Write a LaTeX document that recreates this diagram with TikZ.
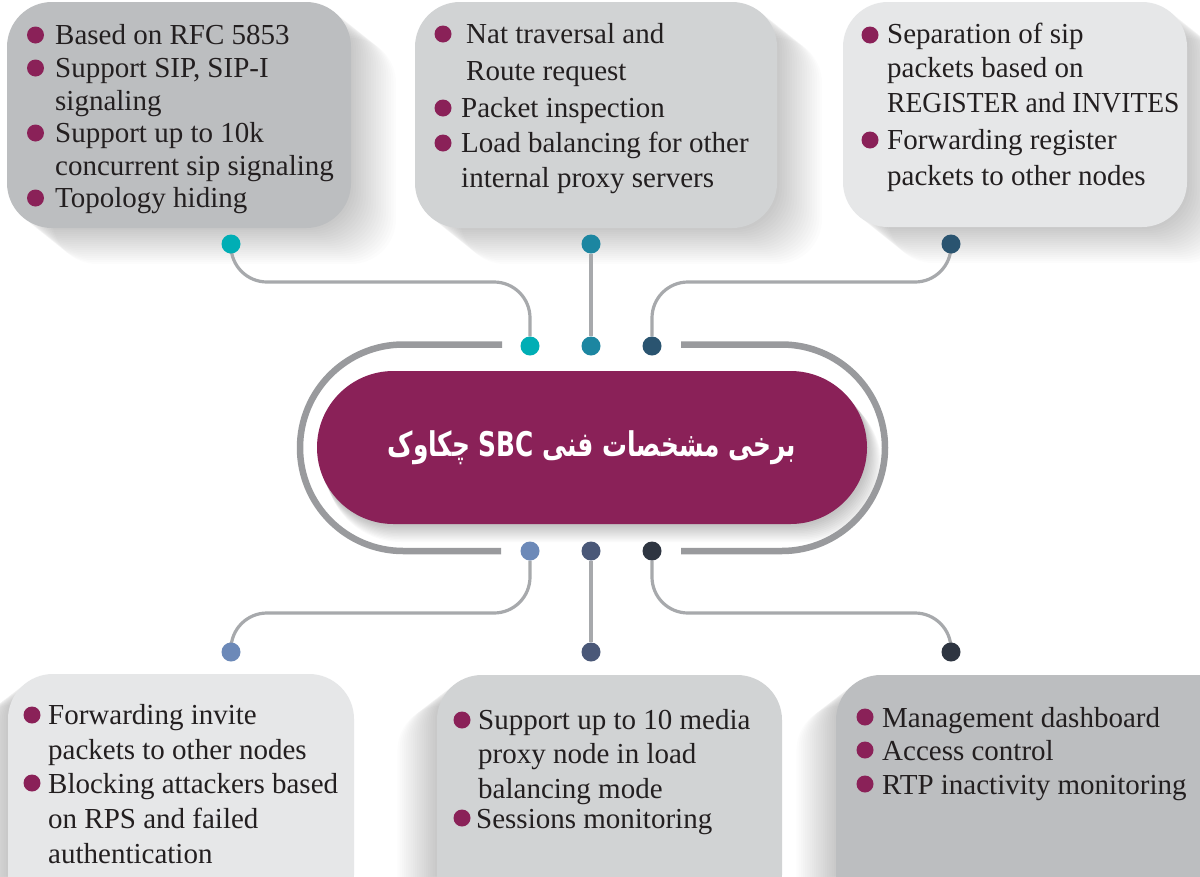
\documentclass[tikz,border=0pt]{standalone}
\usepackage{fontspec}
\setmainfont{Liberation Serif}
\newfontfamily\arabicfont[Script=Arabic]{DejaVu Sans}
\TeXXeTstate=1

\definecolor{plum}{HTML}{8A2158}
\definecolor{ink}{HTML}{231F20}
\definecolor{greyA}{HTML}{BCBEC0}
\definecolor{greyB}{HTML}{D1D3D4}
\definecolor{greyC}{HTML}{E6E7E8}
\definecolor{wirec}{HTML}{A7A9AC}
\definecolor{ringc}{HTML}{999A9D}
\definecolor{dotA}{HTML}{00AEB5}
\definecolor{dotB}{HTML}{1C86A1}
\definecolor{dotC}{HTML}{2A5470}
\definecolor{dotD}{HTML}{6C89B8}
\definecolor{dotE}{HTML}{4A5878}
\definecolor{dotF}{HTML}{2E3541}

\pgfdeclarelayer{back}
\pgfdeclarelayer{wires}
\pgfsetlayers{back,wires,main}

% one line of box text, anchored at its baseline
\newcommand\txtline[4]{\node[txt] (#1) at (#2,#3) {#4};}
% a round bullet
\newcommand\bulat[3]{\node[bul] (#1) at (#2,#3) {};}
% soft shadow behind a rounded card: x1,y1,x2,y2,dx,dy
\newcommand\cardshadow[6]{%
  \foreach \k in {1,...,18}{%
    \fill[black,opacity=0.012,rounded corners=45]
      ({#1+\k*#5},{#2+\k*#6}) rectangle ({#3+\k*#5},{#4+\k*#6});}}

\begin{document}
\begin{tikzpicture}[x=1pt,y=-1pt,
  txt/.style={anchor=base west,inner sep=0pt,text=ink,
    font=\fontsize{29}{33}\selectfont},
  bul/.style={circle,inner sep=0pt,minimum size=17,fill=plum},
  card/.style={rounded corners=45},
  dotnode/.style={circle,inner sep=0pt,minimum size=19},
  wire/.style={draw=wirec,line width=3.2,rounded corners=36},
  ring/.style={draw=ringc,line width=6.5},
  pill/.style={rectangle,rounded corners=76.5,fill=plum,minimum width=550,
    minimum height=153,inner sep=0pt,text=white,
    font=\arabicfont\bfseries\fontsize{34}{38}\selectfont}]
\useasboundingbox (0,0) rectangle (1200,876);

\begin{pgfonlayer}{back}
  \fill[white] (0,0) rectangle (1200,876);
  % cards of the upper row and their shadows
  \cardshadow{7}{2}{351}{228}{2.5}{2}
  \cardshadow{415}{2}{777}{228}{2.5}{2}
  \cardshadow{843}{2}{1187}{227}{2.5}{2}
  \fill[greyA,card] (7,2) rectangle (351,228);
  \fill[greyB,card] (415,2) rectangle (777,228);
  \fill[greyC,card] (843,2) rectangle (1187,227);
  % cards of the lower row and their shadows
  \cardshadow{8}{674}{354}{920}{-2.2}{1.7}
  \cardshadow{437}{675}{782}{920}{-2.2}{1.7}
  \cardshadow{836}{675}{1245}{920}{-2.2}{1.7}
  \fill[greyC,card] (8,674) rectangle (354,920);
  \fill[greyB,card] (437,675) rectangle (782,920);
  \fill[greyA,card] (836,675) rectangle (1245,920);
  % soft shadow under the central pill
  \foreach \k in {1,...,12}{%
    \fill[black,opacity=0.02,rounded corners=76]
      ({317+\k*0.7},{371+\k*1.5}) rectangle ({867+\k*1.2},{524+\k*1.5});}
  % outer ring, open where the dots sit
  \draw[ring] (502,344.5) -- (403.25,344.5)
    arc[start angle=270,end angle=90,radius=103.25] -- (501,551);
  \draw[ring] (681,344.5) -- (781.75,344.5)
    arc[start angle=-90,end angle=90,radius=103.25] -- (681,551);
\end{pgfonlayer}

% central title
\node[pill] (core) at (592,447.5)
  {\scalebox{0.73}[1]{\beginR برخی مشخصات فنی \beginL SBC\endL{} چکاوک\endR}};

% dots
\node[dotnode,fill=dotA] (t1) at (231,244) {};
\node[dotnode,fill=dotB] (t2) at (591,244) {};
\node[dotnode,fill=dotC] (t3) at (951,244) {};
\node[dotnode,fill=dotA] (c1) at (530,346) {};
\node[dotnode,fill=dotB] (c2) at (591,346) {};
\node[dotnode,fill=dotC] (c3) at (652,346) {};
\node[dotnode,fill=dotD] (b1) at (530,551) {};
\node[dotnode,fill=dotE] (b2) at (591,551) {};
\node[dotnode,fill=dotF] (b3) at (652,551) {};
\node[dotnode,fill=dotD] (d1) at (231,652) {};
\node[dotnode,fill=dotE] (d2) at (591,652) {};
\node[dotnode,fill=dotF] (d3) at (951,652) {};

% connectors
\begin{pgfonlayer}{wires}
  \draw[wire] (t1) -- ++(0,38) -| (c1);
  \draw[wire] (t2) -- (c2);
  \draw[wire] (t3) -- ++(0,38) -| (c3);
  \draw[wire] (b1) -- ++(0,62) -| (d1);
  \draw[wire] (b2) -- (d2);
  \draw[wire] (b3) -- ++(0,62) -| (d3);
\end{pgfonlayer}

% upper left card
\bulat{ab1}{35.5}{35}
\txtline{a1}{55}{44}{Based on RFC 5853}
\bulat{ab2}{35.5}{68}
\txtline{a2}{55}{77}{Support SIP, SIP-I}
\txtline{a3}{55}{110}{signaling}
\bulat{ab3}{35.5}{133}
\txtline{a4}{55}{142}{Support up to 10k}
\txtline{a5}{55}{175}{concurrent sip signaling}
\bulat{ab4}{35.5}{198}
\txtline{a6}{55}{207}{Topology hiding}

% upper middle card
\bulat{bb1}{443}{34}
\txtline{m1}{466}{43}{Nat traversal and}
\txtline{m2}{466}{80}{Route request}
\bulat{bb2}{443}{108}
\txtline{m3}{461}{117}{Packet inspection}
\bulat{bb3}{443}{143}
\txtline{m4}{461}{152}{Load balancing for other}
\txtline{m5}{461}{187}{internal proxy servers}

% upper right card
\bulat{cb1}{870}{35}
\txtline{r1}{887}{43}{Separation of sip}
\txtline{r2}{887}{77}{packets based on}
\txtline{r3}{887}{112}{\scalebox{0.95}[1]{REGISTER and INVITES}}
\bulat{cb2}{870}{140}
\txtline{r4}{887}{149}{Forwarding register}
\txtline{r5}{887}{185}{packets to other nodes}

% lower left card
\bulat{db1}{32}{715}
\txtline{l1}{48}{724}{Forwarding invite}
\txtline{l2}{48}{759}{packets to other nodes}
\bulat{db2}{32}{783}
\txtline{l3}{48}{793}{Blocking attackers based}
\txtline{l4}{48}{828}{on RPS and failed}
\txtline{l5}{48}{863}{authentication}

% lower middle card
\bulat{eb1}{462}{720}
\txtline{n1}{478}{729}{Support up to 10 media}
\txtline{n2}{478}{763}{proxy node in load}
\txtline{n3}{478}{798}{balancing mode}
\bulat{eb2}{462}{818}
\txtline{n4}{476}{828}{Sessions monitoring}

% lower right card
\bulat{fb1}{865}{717}
\txtline{s1}{882}{727}{Management dashboard}
\bulat{fb2}{865}{750}
\txtline{s2}{882}{760}{Access control}
\bulat{fb3}{865}{784}
\txtline{s3}{882}{794}{RTP inactivity monitoring}
\end{tikzpicture}
\end{document}
